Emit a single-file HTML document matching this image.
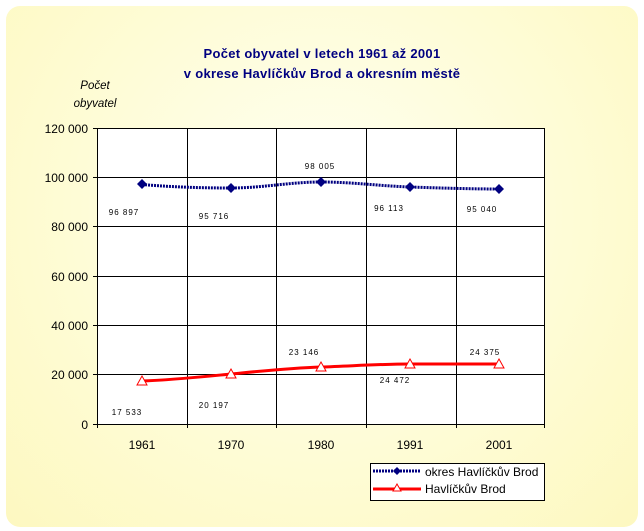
<!DOCTYPE html>
<html><head><meta charset="utf-8"><style>
html,body{margin:0;padding:0;background:#fff;}
body{width:644px;height:531px;position:relative;overflow:hidden;font-family:"Liberation Sans",sans-serif;}
.bg{position:absolute;left:6px;top:6px;width:632px;height:521px;border-radius:14px;background:radial-gradient(ellipse at 50% 40%,#fffff2 0%,#fefcd6 55%,#fdf8c0 100%);}
</style></head><body>
<div class="bg"></div>
<svg width="644" height="531" style="position:absolute;left:0;top:0" font-family="Liberation Sans, sans-serif">
<text x="322" y="58" text-anchor="middle" font-size="13" font-weight="bold" fill="#000080" letter-spacing="0.3">Počet obyvatel v letech 1961 až 2001</text>
<text x="322" y="78" text-anchor="middle" font-size="13" font-weight="bold" fill="#000080" letter-spacing="0.3">v okrese Havlíčkův Brod a okresním městě</text>
<text x="95" y="89" text-anchor="middle" font-size="11.5" font-style="italic" fill="#000">Počet</text>
<text x="95" y="107" text-anchor="middle" font-size="11.5" font-style="italic" fill="#000">obyvatel</text>
<rect x="97.5" y="128.5" width="447" height="296" fill="#fff" stroke="#000"/>
<g stroke="#000" stroke-width="1">
<line x1="97" y1="177.5" x2="545" y2="177.5"/><line x1="97" y1="226.5" x2="545" y2="226.5"/>
<line x1="97" y1="276.5" x2="545" y2="276.5"/><line x1="97" y1="325.5" x2="545" y2="325.5"/>
<line x1="97" y1="374.5" x2="545" y2="374.5"/>
<line x1="187.5" y1="128" x2="187.5" y2="428"/><line x1="276.5" y1="128" x2="276.5" y2="428"/>
<line x1="366.5" y1="128" x2="366.5" y2="428"/><line x1="456.5" y1="128" x2="456.5" y2="428"/>
<line x1="97.5" y1="424" x2="97.5" y2="428"/><line x1="544.5" y1="424" x2="544.5" y2="428"/>
<line x1="93" y1="128.5" x2="97" y2="128.5"/><line x1="93" y1="177.5" x2="97" y2="177.5"/><line x1="93" y1="226.5" x2="97" y2="226.5"/><line x1="93" y1="276.5" x2="97" y2="276.5"/><line x1="93" y1="325.5" x2="97" y2="325.5"/><line x1="93" y1="374.5" x2="97" y2="374.5"/><line x1="93" y1="424.5" x2="97" y2="424.5"/>
</g>
<g font-size="12" text-anchor="end" fill="#000">
<text x="88" y="133">120 000</text><text x="88" y="182">100 000</text><text x="88" y="231">80 000</text><text x="88" y="281">60 000</text><text x="88" y="330">40 000</text><text x="88" y="379">20 000</text><text x="88" y="429">0</text>
</g>
<g font-size="12" text-anchor="middle" fill="#000">
<text x="142" y="449">1961</text><text x="231" y="449">1970</text><text x="321" y="449">1980</text><text x="410" y="449">1991</text><text x="499" y="449">2001</text>
</g>
<path d="M142,184.5 C172,187 200,188 231,188 C262,188 290,182 321,182 C352,182 380,186 410,187 C440,188 470,189 499,189" fill="none" stroke="#000080" stroke-width="3" stroke-dasharray="2,1"/>
<g fill="#000080">
<path d="M142,179 l5,5 -5,5 -5,-5z"/><path d="M231,183 l5,5 -5,5 -5,-5z"/><path d="M321,177 l5,5 -5,5 -5,-5z"/><path d="M410,182 l5,5 -5,5 -5,-5z"/><path d="M499,184 l5,5 -5,5 -5,-5z"/>
</g>
<path d="M142,381 C172,380 200,377 231,374 C262,371 290,368 321,367 C352,366 380,364 410,364 L499,364" fill="none" stroke="#ff0000" stroke-width="3"/>
<g fill="#fff" stroke="#ff0000" stroke-width="1">
<path d="M142,376 l5,9 h-10z"/><path d="M231,369 l5,9 h-10z"/><path d="M321,362 l5,9 h-10z"/><path d="M410,359 l5,9 h-10z"/><path d="M499,359 l5,9 h-10z"/>
</g>
<g font-size="8" fill="#000" text-anchor="middle" letter-spacing="1">
<text x="124" y="215">96 897</text><text x="214" y="219">95 716</text><text x="320" y="169">98 005</text><text x="389" y="211">96 113</text><text x="482" y="212">95 040</text>
<text x="127" y="415">17 533</text><text x="214" y="408">20 197</text><text x="304" y="355">23 146</text><text x="395" y="383">24 472</text><text x="485" y="355">24 375</text>
</g>
<rect x="370.5" y="463.5" width="174" height="37" fill="#fff" stroke="#000"/>
<line x1="373" y1="471" x2="421" y2="471" stroke="#000080" stroke-width="3" stroke-dasharray="2,1"/>
<path d="M397,467 l4,4 -4,4 -4,-4z" fill="#000080"/>
<line x1="373" y1="489" x2="421" y2="489" stroke="#ff0000" stroke-width="3"/>
<path d="M397,484 l4,7 h-8z" fill="#fff" stroke="#ff0000"/>
<text x="425" y="476" font-size="12" fill="#000">okres Havlíčkův Brod</text>
<text x="425" y="493" font-size="12" fill="#000">Havlíčkův Brod</text>
</svg>
</body></html>
